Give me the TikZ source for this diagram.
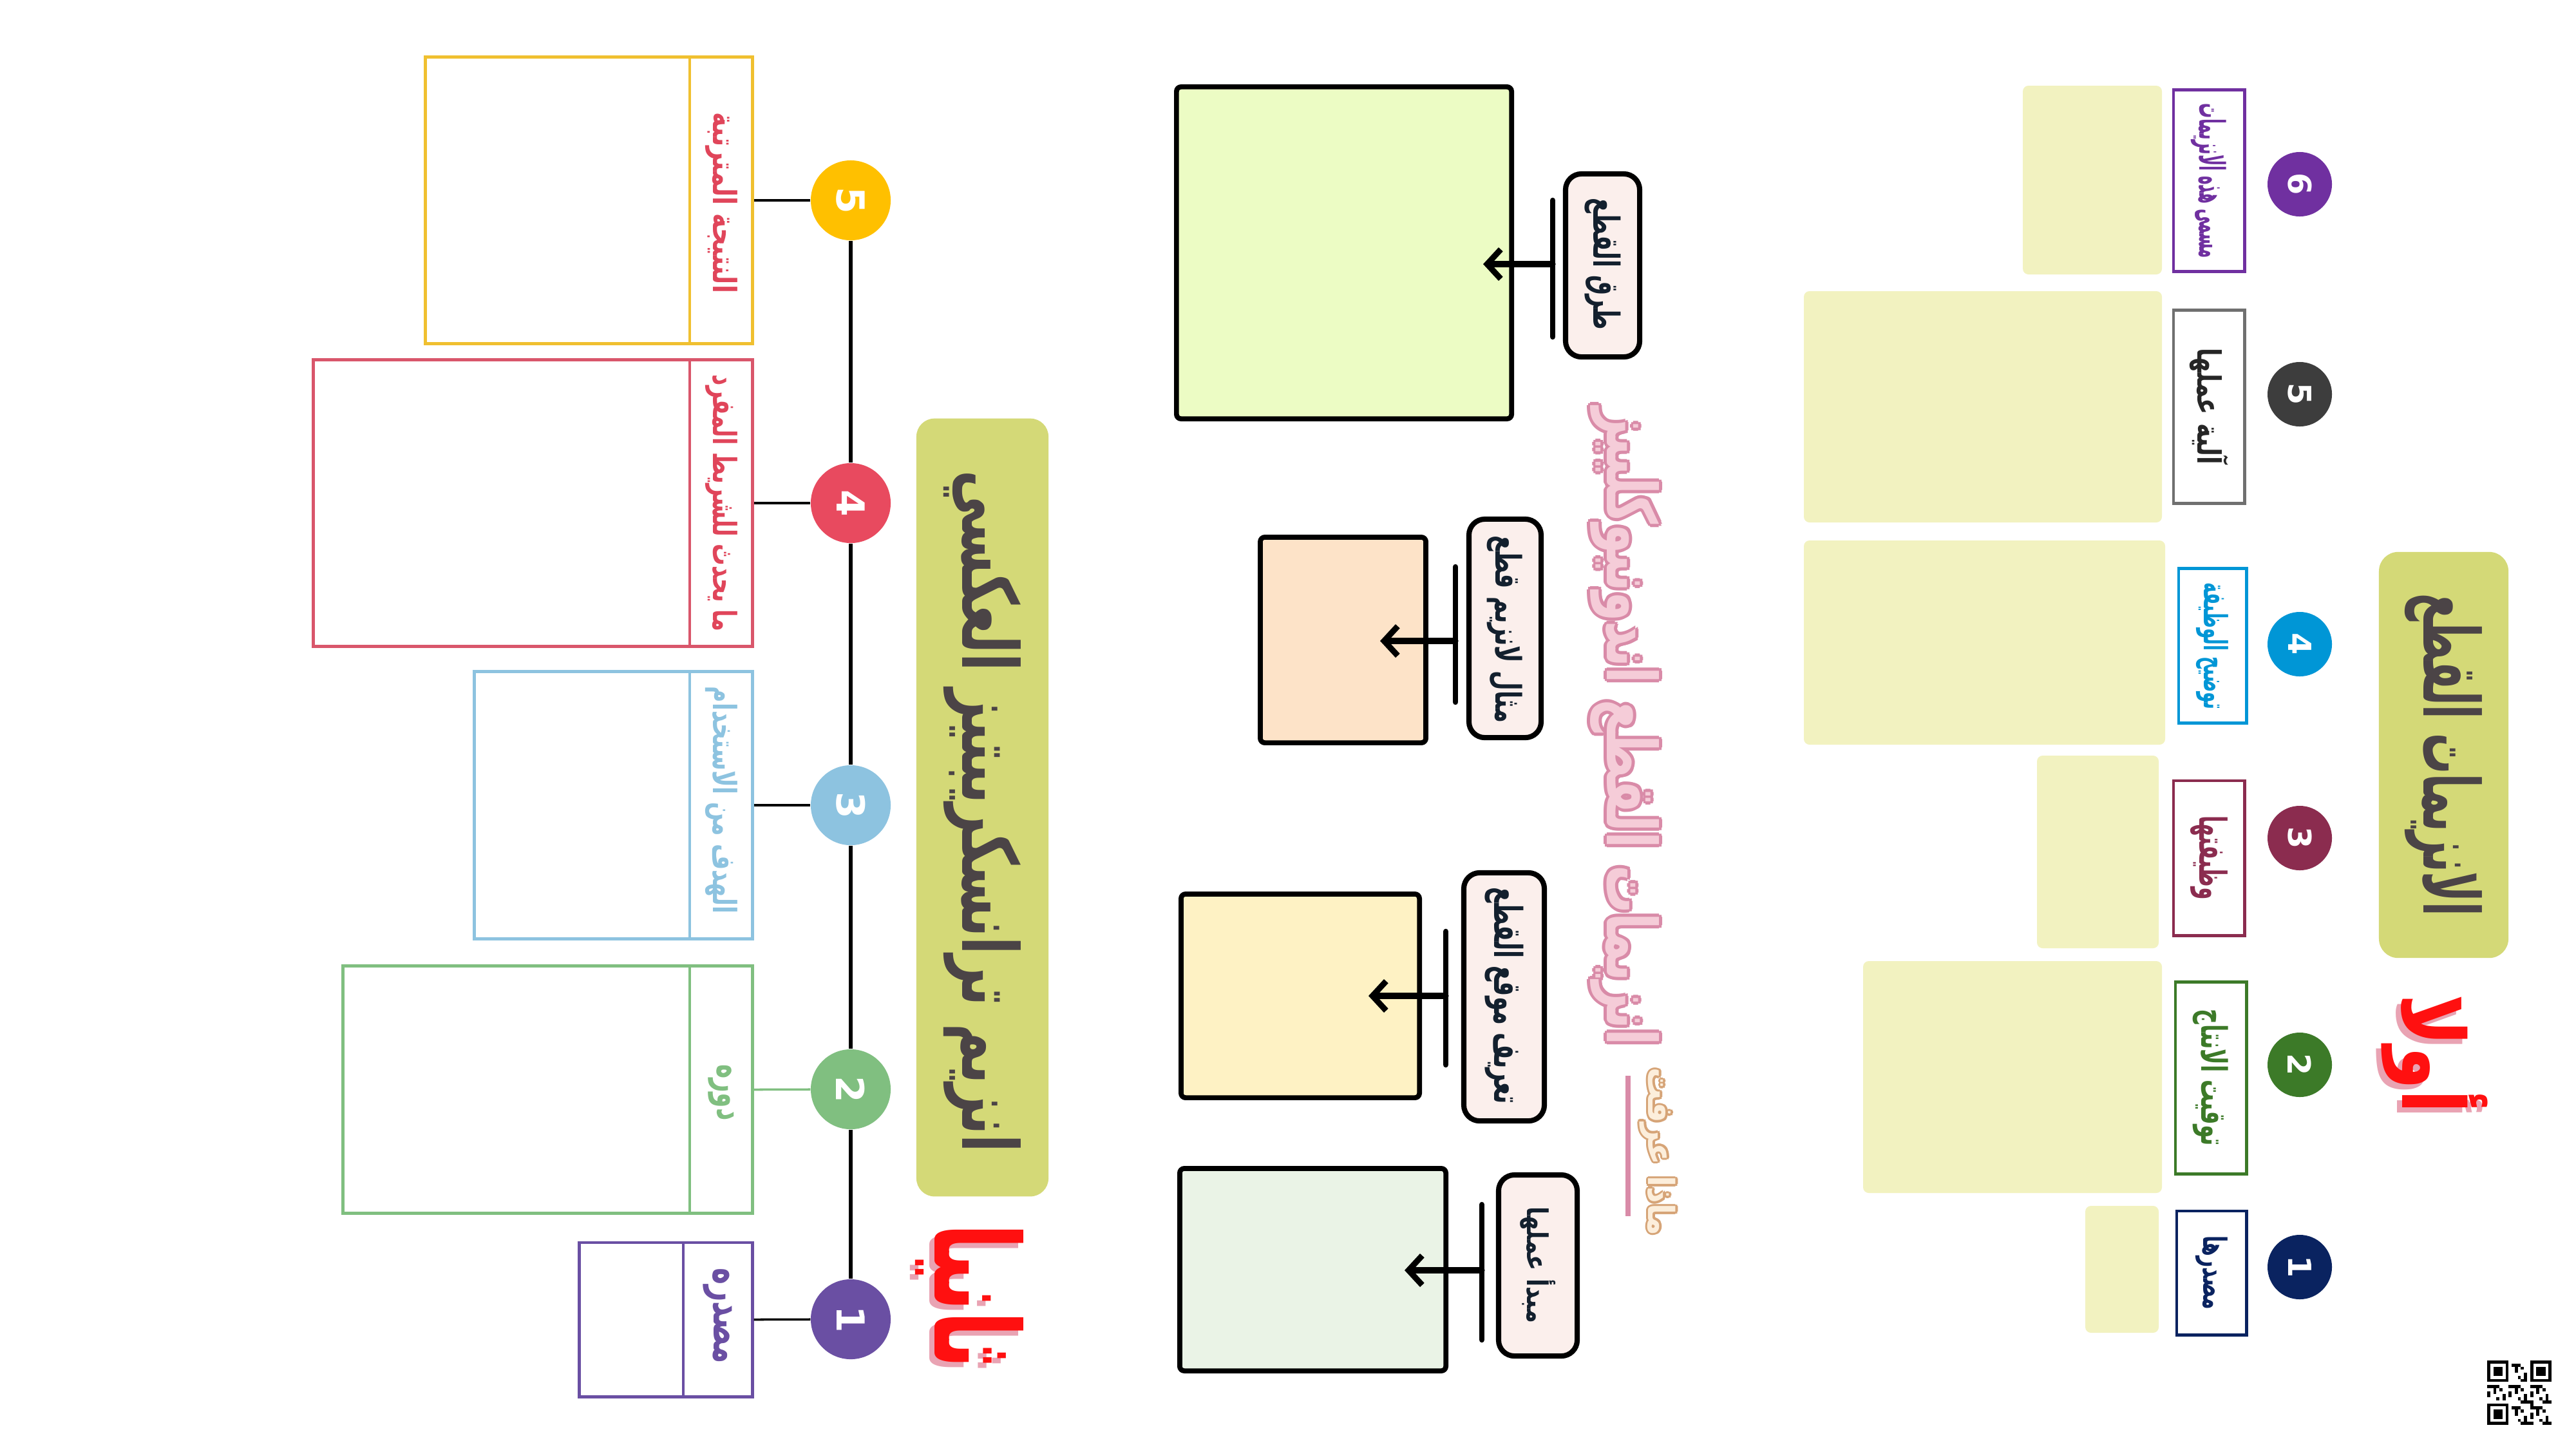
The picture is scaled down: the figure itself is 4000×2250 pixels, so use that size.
\documentclass[tikz,border=0pt]{standalone}
\usepackage{fontspec}
\usepackage{graphicx}
\usetikzlibrary{arrows.meta}
\TeXXeTstate=1
\newfontfamily\arabicfont[Script=Arabic]{DejaVu Sans}
\newfontfamily\latfont{DejaVu Sans}
\newcommand\fitar[3]{\resizebox*{#1}{#2}{\arabicfont\bfseries #3}}
\definecolor{titlegreen}{HTML}{D4D977}
\definecolor{titletext}{HTML}{4B4446}
\definecolor{paleyel}{HTML}{F2F2C0}
\definecolor{cPurple}{HTML}{7030A0}
\definecolor{cGray}{HTML}{3D3D3D}
\definecolor{cGrayBox}{HTML}{707070}
\definecolor{cBlue}{HTML}{0096D6}
\definecolor{cMaroon}{HTML}{8B2C4F}
\definecolor{cGreen}{HTML}{3C7A28}
\definecolor{cNavy}{HTML}{0A2360}
\definecolor{redT}{HTML}{FF1010}
\definecolor{redShadow}{HTML}{E9A3B3}
\definecolor{pinkDark}{HTML}{D98BA8}
\definecolor{pinkLight}{HTML}{F5CCD8}
\definecolor{beigeDark}{HTML}{D6A477}
\definecolor{beigeLight}{HTML}{FCEEDB}
\definecolor{labelFill}{HTML}{FBEFEC}
\definecolor{midText}{HTML}{13202E}
\definecolor{limeF}{HTML}{ECFCC4}
\definecolor{peachF}{HTML}{FDE3C8}
\definecolor{creamF}{HTML}{FEF2C4}
\definecolor{mintF}{HTML}{EAF3E6}
\definecolor{lYellow}{HTML}{FFC000}
\definecolor{lYellowBox}{HTML}{F0C030}
\definecolor{lRed}{HTML}{E84A5F}
\definecolor{lRedBox}{HTML}{D9566B}
\definecolor{lRedText}{HTML}{E0455A}
\definecolor{lBlue}{HTML}{8DC3E0}
\definecolor{lGreen}{HTML}{80BF80}
\definecolor{lPurple}{HTML}{6A4FA3}
\begin{document}
\begin{tikzpicture}[x=0.01cm,y=-0.01cm,
  rtxt/.style={rotate=-90,inner sep=0pt,outer sep=0pt},
  rnum/.style={circle,minimum size=1cm,inner sep=0pt,text=white,font=\latfont\bfseries\fontsize{14}{14}\selectfont},
  lnum/.style={circle,minimum size=1.24cm,inner sep=0pt,text=white,font=\latfont\bfseries\fontsize{17}{17}\selectfont},
  rlabel/.style={draw,fill=white,line width=1.4pt,inner sep=0pt},
  pale/.style={fill=paleyel,rounded corners=2.5pt},
  midlabel/.style={draw=black,fill=labelFill,line width=2.3pt,rounded corners=7pt,inner sep=0pt},
  content/.style={draw=black,line width=2.2pt,rounded corners=2pt,inner sep=0pt},
  barline/.style={line width=2.4pt,line cap=round},
  arrowline/.style={line width=2.6pt,line cap=round,-{Straight Barb[length=6pt,width=13pt]}},
  lbox/.style={draw,line width=1.4pt,inner sep=0pt},
  conn/.style={line width=1pt},
  timeline/.style={line width=1.6pt}]
\useasboundingbox (0,0) rectangle (4000,2250);
\fill[white] (0,0) rectangle (4000,2250);

% ================= right section =================
\node[fill=titlegreen,rounded corners=8.5pt,minimum width=2.01cm,minimum height=6.3cm,inner sep=0pt] (rtitle) at (3794.5,1172) {};
\node[rtxt,text=titletext] (rtitletext) at (3794.5,1172) {\fitar{5.0cm}{1.2cm}{\beginR الانزيمات القطع\endR}};
\node[rtxt,text=redShadow] (awwalshadow) at (3772,1644) {\fitar{1.85cm}{1.65cm}{\beginR أولا\endR}};
\node[rtxt,text=redT] (awwal) at (3780,1636) {\fitar{1.85cm}{1.65cm}{\beginR أولا\endR}};

% pale answer boxes
\fill[pale] (3141,133) rectangle (3357,426);
\fill[pale] (2801,452) rectangle (3357,811);
\fill[pale] (2801,839) rectangle (3362,1156);
\fill[pale] (3163,1173) rectangle (3352,1472);
\fill[pale] (2893,1492) rectangle (3357,1852);
\fill[pale] (3238,1872) rectangle (3352,2069);

% label boxes
\node[rlabel,draw=cPurple,minimum width=1.1cm,minimum height=2.81cm] (r6) at (3430,280.5) {};
\node[rlabel,draw=cGrayBox,minimum width=1.1cm,minimum height=2.99cm] (r5) at (3430,631.5) {};
\node[rlabel,draw=cBlue,minimum width=1.05cm,minimum height=2.39cm] (r4) at (3435.5,1002.5) {};
\node[rlabel,draw=cMaroon,minimum width=1.1cm,minimum height=2.4cm] (r3) at (3430,1332) {};
\node[rlabel,draw=cGreen,minimum width=1.1cm,minimum height=2.97cm] (r2) at (3433,1673.5) {};
\node[rlabel,draw=cNavy,minimum width=1.08cm,minimum height=1.92cm] (r1) at (3434,1976) {};
\node[rtxt,text=cPurple] (r6t) at (3430,281) {\fitar{2.4cm}{0.55cm}{\beginR مسمى هذه الانزيمات\endR}};
\node[rtxt,text=black!85] (r5t) at (3430,631) {\fitar{1.8cm}{0.6cm}{\beginR آلية عملها\endR}};
\node[rtxt,text=cBlue] (r4t) at (3435,1003) {\fitar{1.96cm}{0.5cm}{\beginR توضيح الوظيفة\endR}};
\node[rtxt,text=cMaroon] (r3t) at (3430,1332) {\fitar{1.3cm}{0.58cm}{\beginR وظيفتها\endR}};
\node[rtxt,text=cGreen] (r2t) at (3433,1673) {\fitar{2.12cm}{0.55cm}{\beginR توقيت الانتاج\endR}};
\node[rtxt,text=cNavy] (r1t) at (3434,1976) {\fitar{1.15cm}{0.5cm}{\beginR مصدرها\endR}};

% number circles
\node[rnum,fill=cPurple] (rc6) at (3571,286) {\rotatebox{-90}{6}};
\node[rnum,fill=cGray] (rc5) at (3571,612) {\rotatebox{-90}{5}};
\node[rnum,fill=cBlue] (rc4) at (3571,1000) {\rotatebox{-90}{4}};
\node[rnum,fill=cMaroon] (rc3) at (3571,1301) {\rotatebox{-90}{3}};
\node[rnum,fill=cGreen] (rc2) at (3571,1653) {\rotatebox{-90}{2}};
\node[rnum,fill=cNavy] (rc1) at (3571,1967) {\rotatebox{-90}{1}};

% ================= middle section =================
\foreach \dx/\dy in {-5/0,5/0,0/-5,0/5,-3.5/-3.5,3.5/3.5,-3.5/3.5,3.5/-3.5}
  \node[rtxt,text=pinkDark] at (2523+\dx,1128+\dy) {\fitar{9.9cm}{1.07cm}{\beginR انزيمات القطع اندونيوكلييز\endR}};
\node[rtxt,text=pinkLight] (ptitle) at (2523,1128) {\fitar{9.9cm}{1.07cm}{\beginR انزيمات القطع اندونيوكلييز\endR}};
\foreach \dx/\dy in {-3.5/0,3.5/0,0/-3.5,0/3.5,-2.5/-2.5,2.5/2.5,-2.5/2.5,2.5/-2.5}
  \node[rtxt,text=beigeDark] at (2574+\dx,1788+\dy) {\fitar{2.6cm}{0.56cm}{\beginR ماذا عرفت\endR}};
\node[rtxt,text=beigeLight] (maza) at (2574,1788) {\fitar{2.6cm}{0.56cm}{\beginR ماذا عرفت\endR}};
\coordinate (plTop) at (2528,1670);
\coordinate (plBot) at (2528,1888);
\draw[pinkDark,line width=2.3pt] (plTop) -- (plBot);

% content boxes
\node[content,fill=limeF,minimum width=5.2cm,minimum height=5.15cm] (k1) at (2087,392.5) {};
\node[content,fill=peachF,minimum width=2.57cm,minimum height=3.19cm] (k2) at (2085.5,993.5) {};
\node[content,fill=creamF,minimum width=3.7cm,minimum height=3.16cm] (k3) at (2019,1546) {};
\node[content,fill=mintF,minimum width=4.13cm,minimum height=3.14cm] (k4) at (2038.5,1971) {};

% label boxes
\node[midlabel,minimum width=1.15cm,minimum height=2.84cm] (m1) at (2488.5,412) {};
\node[midlabel,minimum width=1.12cm,minimum height=3.39cm] (m2) at (2337,975.5) {};
\node[midlabel,minimum width=1.25cm,minimum height=3.85cm] (m3) at (2335.5,1547.5) {};
\node[midlabel,minimum width=1.22cm,minimum height=2.81cm] (m4) at (2388,1964.5) {};
\node[rtxt,text=midText] (m1t) at (2488.5,410) {\fitar{2.04cm}{0.56cm}{\beginR طرق القطع\endR}};
\node[rtxt,text=midText] (m2t) at (2337,977) {\fitar{2.9cm}{0.55cm}{\beginR مثال لانزيم قطع\endR}};
\node[rtxt,text=midText] (m3t) at (2335.5,1546) {\fitar{3.36cm}{0.6cm}{\beginR تعريف موقع القطع\endR}};
\node[rtxt,text=midText] (m4t) at (2388,1964) {\fitar{1.8cm}{0.55cm}{\beginR مبدأ عملها\endR}};

% bars and arrows
\coordinate (bt1) at (2411,311);  \coordinate (bb1) at (2411,523);  \coordinate (bm1) at (2411,410); \coordinate (t1) at (2303,410);
\coordinate (bt2) at (2260,880);  \coordinate (bb2) at (2260,1090); \coordinate (bm2) at (2260,995); \coordinate (t2) at (2143,995);
\coordinate (bt3) at (2245,1446); \coordinate (bb3) at (2245,1653); \coordinate (bm3) at (2245,1546); \coordinate (t3) at (2125,1546);
\coordinate (bt4) at (2301,1870); \coordinate (bb4) at (2301,2080); \coordinate (bm4) at (2301,1972); \coordinate (t4) at (2181,1972);
\foreach \i in {1,2,3,4} {
  \draw[barline] (bt\i) -- (bb\i);
  \draw[arrowline] (bm\i) -- (t\i);
}

% ================= left section =================
\node[fill=titlegreen,rounded corners=8pt,minimum width=2.05cm,minimum height=12.07cm,inner sep=0pt] (ltitle) at (1525.5,1253.5) {};
\node[rtxt,text=titletext] (ltitletext) at (1525.5,1260) {\fitar{10.58cm}{1.2cm}{\beginR انزيم ترانسكريبتيز العكسي\endR}};
\node[rtxt,text=redShadow] (thaniashadow) at (1497,2020) {\fitar{2.25cm}{1.68cm}{\beginR ثانيا\endR}};
\node[rtxt,text=redT] (thania) at (1505,2012) {\fitar{2.25cm}{1.68cm}{\beginR ثانيا\endR}};

% label boxes
\node[lbox,draw=lYellowBox,minimum width=5.07cm,minimum height=4.44cm] (lb5) at (914.5,311) {};
\node[lbox,draw=lRedBox,minimum width=6.81cm,minimum height=4.44cm] (lb4) at (827.5,781) {};
\node[lbox,draw=lBlue,minimum width=4.31cm,minimum height=4.14cm] (lb3) at (952.5,1250) {};
\node[lbox,draw=lGreen,minimum width=6.35cm,minimum height=3.83cm] (lb2) at (850.5,1691.5) {};
\node[lbox,draw=lPurple,minimum width=2.68cm,minimum height=2.39cm] (lb1) at (1034,2048.5) {};
\draw[lYellowBox,line width=1.4pt] (1071,89) -- (1071,533);
\draw[lRedBox,line width=1.4pt] (1071,559) -- (1071,1003);
\draw[lBlue,line width=1.4pt] (1071,1043) -- (1071,1457);
\draw[lGreen,line width=1.4pt] (1071,1500) -- (1071,1883);
\draw[lPurple,line width=1.4pt] (1061,1929) -- (1061,2168);
\node[rtxt,text=lRedText] (lb5t) at (1120,315) {\fitar{2.8cm}{0.5cm}{\beginR النتيجة المترتبة\endR}};
\node[rtxt,text=lRedText] (lb4t) at (1120,781) {\fitar{3.98cm}{0.5cm}{\beginR ما يحدث للشريط المفرد\endR}};
\node[rtxt,text=lBlue] (lb3t) at (1120,1242) {\fitar{3.52cm}{0.5cm}{\beginR الهدف من الاستخدام\endR}};
\node[rtxt,text=lGreen] (lb2t) at (1120,1696) {\fitar{0.87cm}{0.4cm}{\beginR دوره\endR}};
\node[rtxt,text=lPurple] (lb1t) at (1114,2043) {\fitar{1.48cm}{0.45cm}{\beginR مصدره\endR}};

% circles
\node[lnum,fill=lYellow] (lc5) at (1321,311) {\rotatebox{-90}{5}};
\node[lnum,fill=lRed] (lc4) at (1321,781) {\rotatebox{-90}{4}};
\node[lnum,fill=lBlue] (lc3) at (1321,1250) {\rotatebox{-90}{3}};
\node[lnum,fill=lGreen] (lc2) at (1321,1691) {\rotatebox{-90}{2}};
\node[lnum,fill=lPurple] (lc1) at (1321,2048) {\rotatebox{-90}{1}};
\draw[timeline] (lc5) -- (lc4);
\draw[timeline] (lc4) -- (lc3);
\draw[timeline] (lc3) -- (lc2);
\draw[timeline] (lc2) -- (lc1);
\draw[conn] (lc5) -- (lb5.east);
\draw[conn] (lc4) -- (lb4.east);
\draw[conn] (lc3) -- (lb3.east);
\draw[conn,lGreen] (lc2) -- (lb2.east);
\draw[conn] (lc1) -- (lb1.east);

% ================= QR-like code =================
\begin{scope}[shift={(3862,2112)},x=0.0476cm,y=-0.0476cm]
  \foreach \a/\b in {0/0,14/0,0/14} {
    \fill[black] (\a,\b) rectangle ++(7,7);
    \fill[white] (\a+1,\b+1) rectangle ++(5,5);
    \fill[black] (\a+2,\b+2) rectangle ++(3,3);
  }
  \foreach \i in {0,...,20} {
    \foreach \j in {0,...,20} {
      \pgfmathtruncatemacro\inf{(\i<8)*(\j<8)+(\i>12)*(\j<8)+(\i<8)*(\j>12)}
      \pgfmathtruncatemacro\v{mod(\i*\i*3+\j*7+\i*\j*5+\j*\j,7)}
      \ifnum\inf=0 \ifnum\v<3 \fill[black] (\i,\j) rectangle ++(1,1); \fi\fi
    }
  }
\end{scope}
\end{tikzpicture}
\end{document}
